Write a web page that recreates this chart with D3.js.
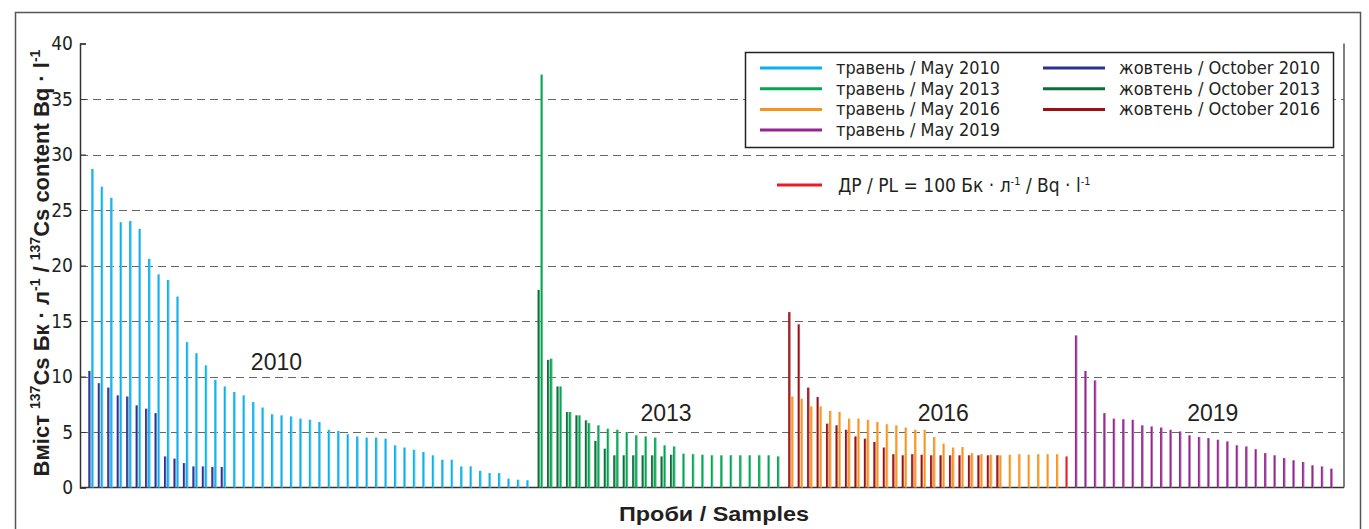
<!DOCTYPE html>
<html>
<head>
<meta charset="utf-8">
<script src="https://cdn.jsdelivr.net/npm/d3@7"></script>
<style>
  body { margin: 0; background: #fff; }
</style>
</head>
<body>
<script>
// Sample values, Bq/l
const may2010 = [28.7, 27.1, 26.1, 23.9, 24.0, 23.3, 20.6, 19.2, 18.7, 17.2, 13.1, 12.1, 11.0, 9.7, 9.1, 8.6,
  8.3, 7.7, 7.2, 6.6, 6.5, 6.4, 6.2, 6.1, 5.9, 5.2, 5.1, 4.8, 4.6, 4.5, 4.5, 4.4,
  3.8, 3.6, 3.4, 3.2, 2.9, 2.5, 2.5, 1.9, 1.9, 1.5, 1.3, 1.3, 0.8, 0.7, 0.65]
const oct2010 = [10.5, 9.4, 9.0, 8.3, 8.2, 7.4, 7.1, 6.7, 2.8, 2.6, 2.2, 1.9, 1.9, 1.85, 1.85]
const may2013 = [37.2, 11.6, 9.1, 6.8, 6.5, 5.8, 5.6, 5.3, 5.2, 5.0, 4.7, 4.6, 4.5, 3.8, 3.7,
  3.05, 3.0, 2.95, 2.9, 2.9, 2.9, 2.9, 2.9, 2.9, 2.9, 2.8]
const oct2013 = [17.8, 11.5, 9.1, 6.8, 6.5, 6.05, 4.2, 3.5, 2.9, 2.9, 2.9, 2.9, 2.9, 2.8, 2.95]
const may2016 = [8.2, 8.0, 7.3, 7.3, 6.9, 6.8, 6.2, 6.2, 6.1, 5.9, 5.7, 5.6, 5.4, 5.2, 5.2,
  4.55, 3.95, 3.6, 3.65, 3.1, 3.0, 2.95, 2.9, 2.95, 3.0, 2.95, 3.0, 3.0, 3.0]
const oct2016 = [15.8, 14.7, 9.0, 8.15, 5.75, 5.6, 5.2, 4.6, 4.4, 4.1, 3.6, 3.0, 2.9, 3.0, 2.95,
  2.9, 2.9, 2.9, 2.9, 2.9, 2.9, 2.9, 2.9]
const plBar = [2.8]
const may2019 = [13.7, 10.5, 9.65, 6.7, 6.2, 6.15, 6.1, 5.6, 5.5, 5.4, 5.2, 5.05, 4.7, 4.55, 4.45,
  4.3, 4.15, 3.8, 3.7, 3.45, 3.1, 2.9, 2.65, 2.45, 2.3, 2.0, 1.9, 1.7]

const yTicks = [0, 5, 10, 15, 20, 25, 30, 35, 40]
const gridTicks = [5, 10, 15, 20, 25, 30, 35]

const colors = {
  may2010: '#0bb0ec',
  oct2010: '#2e3192',
  may2013: '#00a651',
  oct2013: '#0b6e38',
  may2016: '#f7941d',
  oct2016: '#9b1014',
  may2019: '#92278f',
  pl: '#ed1c24',
  text: '#231f20',
  grid: '#666',
}

const groups = [
  { label: '2010', may: may2010, oct: oct2010, mayColor: colors.may2010, octColor: colors.oct2010, gapAfter: 0.5 },
  { label: '2013', may: may2013, oct: oct2013, mayColor: colors.may2013, octColor: colors.oct2013, gapAfter: 0.5 },
  { label: '2016', may: may2016, oct: oct2016, mayColor: colors.may2016, octColor: colors.oct2016, extra: plBar, gapAfter: 0 },
  { label: '2019', may: may2019, oct: [], mayColor: colors.may2019, octColor: null, gapAfter: 0 },
]

// where each year label sits: sample index inside its group and value of baseline
const labelPos = { '2010': [19.5, 10.6], '2013': [13.2, 6.0], '2016': [16, 6.0], '2019': [14.5, 6.0] }

const legendItems = [
  { color: colors.may2010, label: 'травень / May 2010', col: 0, row: 0 },
  { color: colors.may2013, label: 'травень / May 2013', col: 0, row: 1 },
  { color: colors.may2016, label: 'травень / May 2016', col: 0, row: 2 },
  { color: colors.may2019, label: 'травень / May 2019', col: 0, row: 3 },
  { color: colors.oct2010, label: 'жовтень / October 2010', col: 1, row: 0 },
  { color: colors.oct2013, label: 'жовтень / October 2013', col: 1, row: 1 },
  { color: colors.oct2016, label: 'жовтень / October 2016', col: 1, row: 2 },
]

const W = 1369, H = 529
const plot = { left: 80, right: 1344, top: 43.5, bottom: 487.5 }
const narrow = "'Liberation Sans Narrow', 'DejaVu Sans Condensed', 'Arial Narrow', sans-serif"
const sans = "'Liberation Sans', Arial, Helvetica, sans-serif"

const svg = d3.select('body').append('svg')
  .attr('width', W).attr('height', H)
  .attr('viewBox', `0 0 ${W} ${H}`)

svg.append('rect').attr('width', W).attr('height', H).attr('fill', '#fff')

// outer frame
svg.append('rect')
  .attr('x', 15.5).attr('y', 12.5).attr('width', 1345).attr('height', 540)
  .attr('fill', 'none').attr('stroke', '#555').attr('stroke-width', 1.5)

// group start indices
let cursor = 0
groups.forEach(g => {
  g.start = cursor
  cursor += g.may.length + (g.extra ? g.extra.length : 0) + g.gapAfter
})
const lastIndex = groups[3].start + may2019.length - 1

const x = d3.scaleLinear().domain([0, lastIndex]).range([92, 1331])
const y = d3.scaleLinear().domain([0, 40]).range([plot.bottom, plot.top])

// grid
gridTicks.forEach(t => {
  svg.append('line')
    .attr('x1', plot.left).attr('x2', plot.right)
    .attr('y1', Math.round(y(t)) + 0.5).attr('y2', Math.round(y(t)) + 0.5)
    .attr('stroke', colors.grid).attr('stroke-width', 1)
    .attr('stroke-dasharray', '8,5')
})

// y axis
const yAxis = svg.append('g').attr('transform', `translate(${plot.left},0)`)
  .call(d3.axisLeft(y).tickValues(yTicks).tickSize(-6).tickPadding(7).tickFormat(d3.format('d')))
yAxis.select('.domain').attr('stroke', '#333').attr('stroke-width', 1.5)
yAxis.selectAll('.tick line').attr('stroke', '#333')
yAxis.selectAll('.tick text')
  .style('font-family', narrow).style('font-size', '19px').attr('fill', colors.text)

// bottom & right lines
svg.append('line')
  .attr('x1', plot.left).attr('x2', plot.right)
  .attr('y1', plot.bottom).attr('y2', plot.bottom)
  .attr('stroke', '#333').attr('stroke-width', 1.5)
svg.append('line')
  .attr('x1', plot.right).attr('x2', plot.right)
  .attr('y1', plot.top).attr('y2', plot.bottom)
  .attr('stroke', '#555').attr('stroke-width', 1.5)

// bars
const bw = 2.4
function bar(cx, v, color) {
  const g = svg.append('g')
  g.append('rect')
    .attr('x', cx - bw / 2).attr('y', y(v))
    .attr('width', bw).attr('height', y(0) - y(v))
    .attr('fill', color)
  g.append('rect')
    .attr('x', cx + bw / 2 - 0.8).attr('y', y(v))
    .attr('width', 0.8).attr('height', y(0) - y(v))
    .attr('fill', '#fff').attr('opacity', 0.4)
}

groups.forEach(g => {
  g.may.forEach((v, i) => bar(x(g.start + i) + 0.5, v, g.mayColor))
  g.oct.forEach((v, i) => bar(x(g.start + i) - 2.5, v, g.octColor))
  if (g.extra) g.extra.forEach((v, i) => bar(x(g.start + g.may.length + i) + 0.5, v, colors.pl))
})

// year labels
groups.forEach(g => {
  const [idx, v] = labelPos[g.label]
  svg.append('text')
    .attr('x', x(g.start + idx)).attr('y', y(v))
    .attr('text-anchor', 'middle')
    .style('font-family', sans).style('font-size', '23px')
    .attr('fill', colors.text)
    .text(g.label)
})

// legend
const legend = svg.append('g')
legend.append('rect')
  .attr('x', 745.5).attr('y', 52.5).attr('width', 588).attr('height', 95)
  .attr('fill', '#fff').attr('stroke', '#222').attr('stroke-width', 1.5)

const colX = [760, 1043]
legendItems.forEach(it => {
  const ly = 68 + it.row * 20.7
  legend.append('line')
    .attr('x1', colX[it.col]).attr('x2', colX[it.col] + 62)
    .attr('y1', ly).attr('y2', ly)
    .attr('stroke', it.color).attr('stroke-width', 3)
  legend.append('text')
    .attr('x', colX[it.col] + 76).attr('y', ly + 6)
    .attr('textLength', it.col === 0 ? 164 : 201)
    .attr('lengthAdjust', 'spacingAndGlyphs')
    .style('font-family', narrow).style('font-size', '18px')
    .attr('fill', colors.text)
    .text(it.label)
})

// permissible level
svg.append('line')
  .attr('x1', 777).attr('x2', 822).attr('y1', 185).attr('y2', 185)
  .attr('stroke', colors.pl).attr('stroke-width', 3)
const pl = svg.append('text')
  .attr('x', 838).attr('y', 192)
  .style('font-family', narrow).style('font-size', '19px')
  .attr('fill', colors.text)
const plParts = [['ДР / PL = 100 Бк · л', false], ['-1', true], [' / Bq  · l', false], ['-1', true]]
let plUp = false
plParts.forEach(([t, sup]) => {
  const dy = sup && !plUp ? -7 : (!sup && plUp ? 7 : 0)
  plUp = sup
  pl.append('tspan')
    .attr('dy', dy)
    .style('font-size', sup ? '11px' : null)
    .text(t)
})

// y title
const yt = svg.append('text')
  .attr('transform', 'translate(49,263) rotate(-90)')
  .attr('text-anchor', 'middle')
  .style('font-family', sans).style('font-size', '22px').style('font-weight', 700)
  .attr('fill', colors.text)
const ytParts = [['Вміст ', false], ['137', true], ['Cs Бк · л', false], ['-1', true], [' / ', false],
  ['137', true], ['Cs content Bq · l', false], ['-1', true]]
let raised = false
ytParts.forEach(([t, sup]) => {
  const dy = sup && !raised ? -9 : (!sup && raised ? 9 : 0)
  raised = sup
  yt.append('tspan')
    .attr('dy', dy)
    .style('font-size', sup ? '14px' : null)
    .text(t)
})

// x title
svg.append('text')
  .attr('x', 714).attr('y', 521)
  .attr('text-anchor', 'middle')
  .attr('textLength', 190).attr('lengthAdjust', 'spacingAndGlyphs')
  .style('font-family', sans).style('font-size', '21px').style('font-weight', 700)
  .attr('fill', colors.text)
  .text('Проби / Samples')
</script>
</body>
</html>
